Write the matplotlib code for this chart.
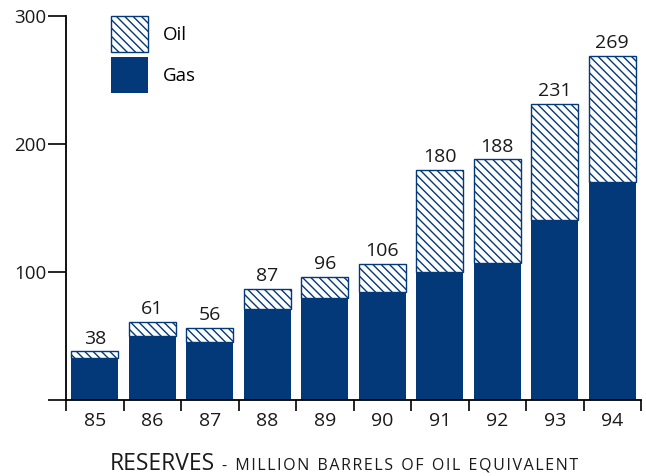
import matplotlib
matplotlib.use('Agg')
import matplotlib.pyplot as plt
from matplotlib.offsetbox import TextArea, HPacker, AnnotationBbox
import numpy as np

plt.rcParams['font.family'] = ['Open Sans', 'DejaVu Sans']
plt.rcParams['hatch.linewidth'] = 1.0

# reserves by year, million barrels of oil equivalent
years = ['85', '86', '87', '88', '89', '90', '91', '92', '93', '94']
totals = [38, 61, 56, 87, 96, 106, 180, 188, 231, 269]
gas = [33, 50, 45, 71, 80, 84, 100, 107, 141, 170]
oil = [t - g for t, g in zip(totals, gas)]

navy = '#033979'
ink = '#1a1a1a'

fig = plt.figure(figsize=(6.46, 4.76), dpi=100)
ax = fig.add_axes([0.1022, 0.1597, 0.8901, 0.8067])

x = np.arange(len(years))
ax.bar(x, gas, width=0.81, color=navy, edgecolor=navy, linewidth=0, label='Gas')
ax.bar(x, oil, width=0.81, bottom=gas, color='white', edgecolor=navy,
       linewidth=1.0, hatch='\\\\\\\\', label='Oil')

for xi, t in zip(x, totals):
    ax.text(xi, t + 3, str(t), ha='center', va='bottom', fontsize=14, color=ink)

ax.set_xlim(-0.5, len(years) - 0.5)
ax.set_ylim(0, 300)

# ticks between bars, labels centred under them
ax.set_xticks(np.arange(-0.5, len(years)), minor=False)
ax.set_xticklabels([])
ax.set_xticks(x, minor=True)
ax.set_xticklabels(years, minor=True, fontsize=14, color=ink)
ax.tick_params(axis='x', which='major', length=8, width=1.2, direction='out')
ax.tick_params(axis='x', which='minor', length=0, pad=9)

ax.set_yticks([0, 100, 200, 300])
ax.set_yticklabels(['', '100', '200', '300'], fontsize=13.5, color=ink)
ax.tick_params(axis='y', length=13, width=1.2, pad=1)

for s in ['top', 'right']:
    ax.spines[s].set_visible(False)
for s in ['left', 'bottom']:
    ax.spines[s].set_linewidth(1.3)

handles, labels = ax.get_legend_handles_labels()
ax.legend(handles[::-1], labels[::-1], loc='upper left',
          bbox_to_anchor=(0.078, 1.0), borderaxespad=0, borderpad=0,
          frameon=False, fontsize=13.5, handlelength=1.97, handleheight=2.6,
          labelspacing=0.25, handletextpad=0.8)

# axis caption, second part in letter-spaced small caps
def spaced(s):
    return '  '.join('\u200a'.join(w) for w in s.split(' '))

big = TextArea('RESERVES', textprops=dict(fontsize=16.5, color=ink))
small = TextArea('-  ' + spaced('MILLION BARRELS OF OIL EQUIVALENT'),
                 textprops=dict(fontsize=11.5, color=ink))
caption = HPacker(children=[big, small], align='baseline', pad=0, sep=5)
ab = AnnotationBbox(caption, (0.533, 0.0), xycoords='figure fraction',
                    box_alignment=(0.5, 0), frameon=False, pad=0)
fig.add_artist(ab)

fig.savefig('out.png', dpi=100)
